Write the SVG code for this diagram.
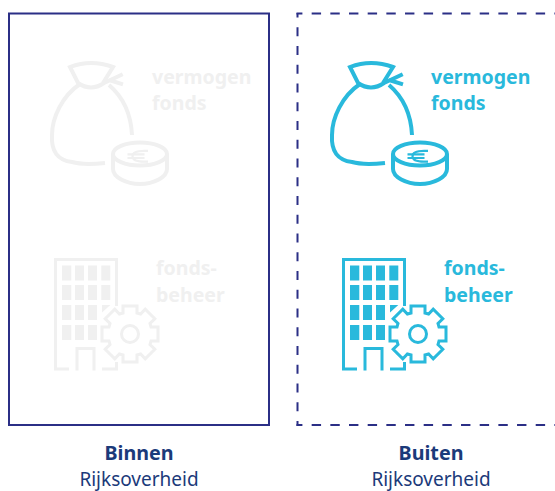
<svg xmlns="http://www.w3.org/2000/svg" xmlns:xlink="http://www.w3.org/1999/xlink" width="555" height="491" viewBox="0 0 555 491">
<style>
.ln{fill:none;stroke:currentColor;stroke-width:3;stroke-linecap:butt;stroke-linejoin:miter}
.bagln{fill:none;stroke:currentColor;stroke-width:4;stroke-linecap:butt;stroke-linejoin:miter}
.eu{fill:none;stroke:currentColor;stroke-width:2.200}
.fl{fill:currentColor}
.on{color:#29b9dc}
.off{color:#f0f0f0}
.lbl{font-family:"Noto Sans","Open Sans",sans-serif;font-size:19.500px;font-weight:700;fill:currentColor}
.cap{font-family:"Noto Sans","Open Sans",sans-serif;font-size:19px;fill:#1b3a7a;text-anchor:middle}
.capb{font-weight:700;font-size:19.700px}
.dash{fill:none;stroke:#2b2f86;stroke-width:2}
</style>
<defs>
<g id="bag">
<path class="bagln" d="M383,83 L393,67 Q371,59 350,67 L358,83 Q371,92 384,83 L402.700,74.300 M389,80 L403,84.300"/>
<path class="bagln" d="M360,84 C342,96 332,118 332,135 C331,152 338,160 352,162 C362,165 375,164 385,163 M389,85 C403,97 411,115 412,135"/>
<ellipse class="bagln" cx="420" cy="154" rx="27" ry="11.500"/>
<path class="bagln" d="M393,154 V169 C393,177 406,184 420,184 C434,184 447,177 447,169 V154"/>
<path class="eu" d="M428,150.800 H424 C416.500,150.800 412.500,153 412.500,156.200 C412.500,159.500 416.500,161.600 424,161.600 H428"/>
<path class="eu" stroke-width="1.800" d="M407.500,154.400 H424.500 M407.500,158 H424.500"/>
</g>
<g id="bld">
<path class="ln" d="M357,369 H343.500 V259.500 H404.500 V306 M365,370.500 V348.500 H382 V370.500 M390,369 H404.500 V362"/>
<path class="fl" d="M350,265.500h9.300v15h-9.300zM363,265.500h9v15h-9zM376,265.500h9v15h-9zM389.300,265.500h9v15h-9zM350,285h9.300v15h-9.300zM363,285h9v15h-9zM376,285h9v15h-9zM389.300,285h9v15h-9zM350,305h9.300v15h-9.300zM363,305h9v15h-9zM376,305h9v15h-9zM390,305h8.300l-8.300,7.500zM350,325h9.300v15h-9.300zM363,325h9v15h-9zM376,325h9v15h-9z"/>
<g transform="translate(418,334)">
<path class="ln" d="M-7,-21 L-7,-28 L7,-28 L7,-21 L10.600,-20 L15.200,-24.800 L24.800,-15.200 L20,-10.600 L21,-7 L28,-7 L28,7 L21,7 L20,10.600 L24.800,15.200 L15.200,24.800 L10.600,20 L7,21 L7,28 L-7,28 L-7,21 L-10.600,20 L-15.200,24.800 L-24.800,15.200 L-20,10.600 L-21,7 L-28,7 L-28,-7 L-21,-7 L-20,-10.600 L-24.800,-15.200 L-15.200,-24.800 L-10.600,-20 Z"/>
<circle class="ln" r="8.500"/>
</g>
</g>
</defs>
<g id="connectors"/>
<g id="frame-binnen"><rect x="9" y="13.500" width="260" height="411.500" fill="none" stroke="#2b2f86" stroke-width="2"/></g>
<g id="frame-buiten">
<path class="dash" d="M296.500,13.500 H555" stroke-dasharray="9.400 9.270" stroke-dashoffset="3.500"/>
<path class="dash" d="M296.500,425 H555" stroke-dasharray="9.400 9.270" stroke-dashoffset="3.500"/>
<path class="dash" d="M297.500,13 V426" stroke-dasharray="9 9.750" stroke-dashoffset="4.450"/>
</g>
<g id="binnen-vermogen" class="off"><use href="#bag" xlink:href="#bag" x="-280"/><text class="lbl" x="152" y="84">vermogen</text><text class="lbl" x="152" y="110">fonds</text></g>
<g id="binnen-beheer" class="off"><use href="#bld" xlink:href="#bld" x="-288"/><text class="lbl" x="156" y="275">fonds-</text><text class="lbl" x="156" y="302">beheer</text></g>
<g id="buiten-vermogen" class="on"><use href="#bag" xlink:href="#bag"/><text class="lbl" x="431" y="84">vermogen</text><text class="lbl" x="431" y="110">fonds</text></g>
<g id="buiten-beheer" class="on"><use href="#bld" xlink:href="#bld"/><text class="lbl" x="444" y="275">fonds-</text><text class="lbl" x="444" y="302">beheer</text></g>
<g id="cap-binnen"><text class="cap capb" x="139" y="460">Binnen</text><text class="cap" x="139" y="485.500">Rijksoverheid</text></g>
<g id="cap-buiten"><text class="cap capb" x="431" y="460">Buiten</text><text class="cap" x="431" y="485.500">Rijksoverheid</text></g>
</svg>
